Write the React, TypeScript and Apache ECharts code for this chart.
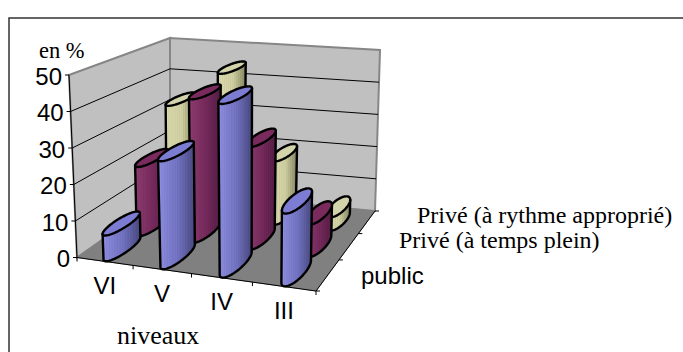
import React, { useEffect, useRef } from "react";
import * as echarts from "echarts";

const categories = ["VI", "V", "IV", "III"];
const yTicks = [0, 10, 20, 30, 40, 50];
const depthNames = ["public", "Privé (à temps plein)", "Privé (à rythme approprié)"];
const publicValues = [7, 29, 46, 19];
const tempsPleinValues = [20, 41, 29, 9];
const rythmeValues = [33, 44, 19, 4];

// Plot box of the hidden axes: category and value scales feed the oblique projection.
const GRID = { left: 77, top: 75, width: 239, height: 182.5 };

// Screen corners of the 3D box, named c<u><d><h>.
const C: Record<string, number[]> = {
  c000: [77, 257.5],
  c100: [316, 291],
  c010: [170, 192],
  c110: [375, 211],
  c001: [69, 75],
  c101: [319, 98],
  c011: [170, 38],
  c111: [380, 50],
};
const PERSP_U = -0.08;
const PERSP_D = 0.27;
const DEPTH_CENTRES = [0.165, 0.485, 0.825];

function project(u: number, d: number, h: number): number[] {
  const a = (u * (1 + PERSP_U)) / (1 + PERSP_U * u);
  const b = (d * (1 + PERSP_D)) / (1 + PERSP_D * d);
  const out = [0, 0];
  for (let k = 0; k < 2; k++) {
    const low =
      (1 - b) * ((1 - a) * C.c000[k] + a * C.c100[k]) + b * ((1 - a) * C.c010[k] + a * C.c110[k]);
    const high =
      (1 - b) * ((1 - a) * C.c001[k] + a * C.c101[k]) + b * ((1 - a) * C.c011[k] + a * C.c111[k]);
    out[k] = low + (high - low) * h;
  }
  return out;
}

function toBox(api: any, cat: number, value: number) {
  const p = api.coord([cat, value]);
  return { u: (p[0] - GRID.left) / GRID.width, h: (GRID.top + GRID.height - p[1]) / GRID.height };
}

// Cross-section of a cylinder on the floor plane, slanted along the depth axis.
const RING = { ua: 0.012, da: 0.152, ub: -0.034, db: 0.058 };
function ring(u: number, d: number, h: number): number[][] {
  const pts: number[][] = [];
  for (let i = 0; i < 72; i++) {
    const t = (i / 72) * Math.PI * 2;
    pts.push(
      project(
        u + RING.ua * Math.cos(t) + RING.ub * Math.sin(t),
        d + RING.da * Math.cos(t) + RING.db * Math.sin(t),
        h,
      ),
    );
  }
  return pts;
}

function hex(c: number[]) {
  return "rgb(" + c.map((v) => Math.max(0, Math.min(255, Math.round(v)))).join(",") + ")";
}

// Horizontal shading with the fine vertical banding of the cylinder facets.
function shade(light: number[], mid: number[], dark: number[]) {
  const stops: { offset: number; color: string }[] = [];
  const n = 28;
  for (let i = 0; i <= n; i++) {
    const t = i / n;
    const from = t < 0.55 ? light : mid;
    const to = t < 0.55 ? mid : dark;
    const f = t < 0.55 ? t / 0.55 : (t - 0.55) / 0.45;
    const wob = i % 2 === 0 ? 1.03 : 0.97;
    stops.push({ offset: t, color: hex(from.map((v, k) => (v + (to[k] - v) * f) * wob)) });
  }
  return new echarts.graphic.LinearGradient(0, 0, 1, 0, stops);
}

const STYLES = [
  { body: shade([140, 140, 222], [112, 112, 190], [70, 70, 125]), top: "#7c7cd2" },
  { body: shade([140, 60, 110], [115, 40, 90], [82, 28, 66]), top: "#7a2a5c" },
  { body: shade([214, 214, 170], [205, 205, 160], [130, 130, 95]), top: "#d4d4ac" },
];

function barSeries(s: number, values: number[]) {
  return {
    type: "custom",
    coordinateSystem: "cartesian2d",
    silent: true,
    clip: false,
    encode: { x: 0, y: 1 },
    z: 10 + (2 - s),
    data: values.map((v, i) => [i, v]),
    renderItem(_: any, api: any) {
      const { u, h } = toBox(api, api.value(0), api.value(1));
      const d = DEPTH_CENTRES[s];
      const top = ring(u, d, h);
      const base = ring(u, d, 0);
      let li = 0;
      let ri = 0;
      base.forEach((p, i) => {
        if (p[0] < base[li][0]) li = i;
        if (p[0] > base[ri][0]) ri = i;
      });
      // Walk the lower arc of the base from the right tangent to the left one.
      const n = base.length;
      const walk = (step: number) => {
        const arc: number[][] = [];
        for (let i = ri; i !== li; i = (i + step + n) % n) arc.push(base[i]);
        arc.push(base[li]);
        return arc;
      };
      const mean = (a: number[][]) => a.reduce((sum, p) => sum + p[1], 0) / a.length;
      const arcA = walk(1);
      const arcB = walk(-1);
      const arc = mean(arcA) > mean(arcB) ? arcA : arcB;
      const body = [top[li], top[ri], ...arc];
      const st = STYLES[s];
      const line = { stroke: "#000", lineWidth: 2.4, lineJoin: "round" };
      return {
        type: "group",
        children: [
          { type: "polygon", shape: { points: body }, style: { fill: st.body, ...line } },
          { type: "polygon", shape: { points: top }, style: { fill: st.top, ...line } },
        ],
      };
    },
  };
}

function App() {
  const ref = useRef<HTMLDivElement>(null);
  useEffect(() => {
    const chart = echarts.init(ref.current!, undefined, { renderer: "svg" });
    const serif = "'Liberation Serif', serif";
    const sans = "'Liberation Sans', sans-serif";
    const label = (text: string, x: number, y: number, font: string, size: number) => ({
      type: "text",
      x,
      y,
      style: { text, font: `${size}px ${font}`, fill: "#000", textVerticalAlign: "middle" },
    });
    chart.setOption({
      animation: false,
      backgroundColor: "#fff",
      grid: { ...GRID, containLabel: false },
      xAxis: { type: "category", data: categories, show: false },
      yAxis: { type: "value", min: 0, max: 50, interval: 10, show: false },
      graphic: [
        {
          type: "rect",
          shape: { x: 9, y: 18, width: 700, height: 360 },
          style: { fill: "none", stroke: "#333", lineWidth: 1.5 },
        },
        label("en %", 39, 50, serif, 22.5),
        label("niveaux", 117, 335, serif, 26),
        label(depthNames[2], 417, 215, serif, 24),
        label(depthNames[1], 399, 240, serif, 24),
        label(depthNames[0], 361, 275, sans, 24),
      ],
      series: [
        {
          // Walls and floor of the box
          type: "custom",
          silent: true,
          clip: false,
          z: 1,
          encode: { x: 0, y: 1 },
          data: [[0, 50]],
          renderItem() {
            const wall = { fill: "#c0c0c0", stroke: "#868686", lineWidth: 2 };
            const P = project;
            return {
              type: "group",
              children: [
                { type: "polygon", shape: { points: [P(0, 0, 0), P(0, 0, 1), P(0, 1, 1), P(0, 1, 0)] }, style: wall },
                { type: "polygon", shape: { points: [P(0, 1, 0), P(0, 1, 1), P(1, 1, 1), P(1, 1, 0)] }, style: wall },
                {
                  type: "polygon",
                  shape: { points: [P(0, 0, 0), P(1, 0, 0), P(1, 1, 0), P(0, 1, 0)] },
                  style: { fill: "#808080", stroke: "#808080", lineWidth: 1 },
                },
                {
                  type: "polyline",
                  shape: { points: [P(0, 0, 1), P(0, 0, 0), P(1, 0, 0), P(1, 1, 0)] },
                  style: { fill: "none", stroke: "#000", lineWidth: 1 },
                },
              ],
            };
          },
        },
        {
          // Gridlines, ticks and labels of the value axis
          type: "custom",
          silent: true,
          clip: false,
          z: 2,
          encode: { x: 0, y: 1 },
          data: yTicks.map((t) => [0, t]),
          renderItem(_: any, api: any) {
            const v = api.value(1);
            const h = (GRID.top + GRID.height - api.coord([0, v])[1]) / GRID.height;
            const a = project(0, 0, h);
            const b = project(0, 1, h);
            const c = project(1, 1, h);
            const children: any[] = [
              { type: "polyline", shape: { points: [[a[0] - 4, a[1]], a] }, style: { fill: "none", stroke: "#000", lineWidth: 1 } },
              {
                type: "text",
                x: a[0] - 7,
                y: a[1] + 1,
                style: { text: String(v), font: `24px 'Liberation Sans', sans-serif`, fill: "#000", textAlign: "right", textVerticalAlign: "middle" },
              },
            ];
            if (v > 0 && v < 50) {
              children.push({ type: "polyline", shape: { points: [a, b, c] }, style: { fill: "none", stroke: "#000", lineWidth: 1 } });
            }
            return { type: "group", children };
          },
        },
        {
          // Category ticks and labels along the front edge of the floor
          type: "custom",
          silent: true,
          clip: false,
          z: 2,
          encode: { x: 0, y: 1 },
          data: categories.map((_, i) => [i, 0]),
          renderItem(_: any, api: any) {
            const i = api.value(0);
            const { u } = toBox(api, i, 0);
            const edge = project(u + 0.125, 0, 0);
            const first = project(0, 0, 0);
            const mid = project(u, 0, 0);
            const children: any[] = [
              { type: "polyline", shape: { points: [edge, [edge[0], edge[1] + 4]] }, style: { fill: "none", stroke: "#000", lineWidth: 1 } },
              {
                type: "text",
                x: mid[0],
                y: mid[1] + 24,
                style: { text: categories[i], font: `24px 'Liberation Sans', sans-serif`, fill: "#000", textAlign: "center", textVerticalAlign: "middle" },
              },
            ];
            if (i === 0) children.push({ type: "polyline", shape: { points: [first, [first[0], first[1] + 4]] }, style: { fill: "none", stroke: "#000", lineWidth: 1 } });
            return { type: "group", children };
          },
        },
        {
          // Depth ticks along the right edge of the floor
          type: "custom",
          silent: true,
          clip: false,
          z: 2,
          encode: { x: 0, y: 1 },
          data: [[3, 0], [3, 1], [3, 2], [3, 3]],
          renderItem(_: any, api: any) {
            const p = project(1, api.value(1) / 3, 0);
            return { type: "polyline", shape: { points: [p, [p[0] + 4, p[1]]] }, style: { fill: "none", stroke: "#000", lineWidth: 1 } };
          },
        },
        barSeries(2, rythmeValues),
        barSeries(1, tempsPleinValues),
        barSeries(0, publicValues),
      ],
    });
    return () => chart.dispose();
  }, []);
  return <div ref={ref} style={{ position: "fixed", left: 0, top: 0, width: 683, height: 352 }} />;
}

export default App;
